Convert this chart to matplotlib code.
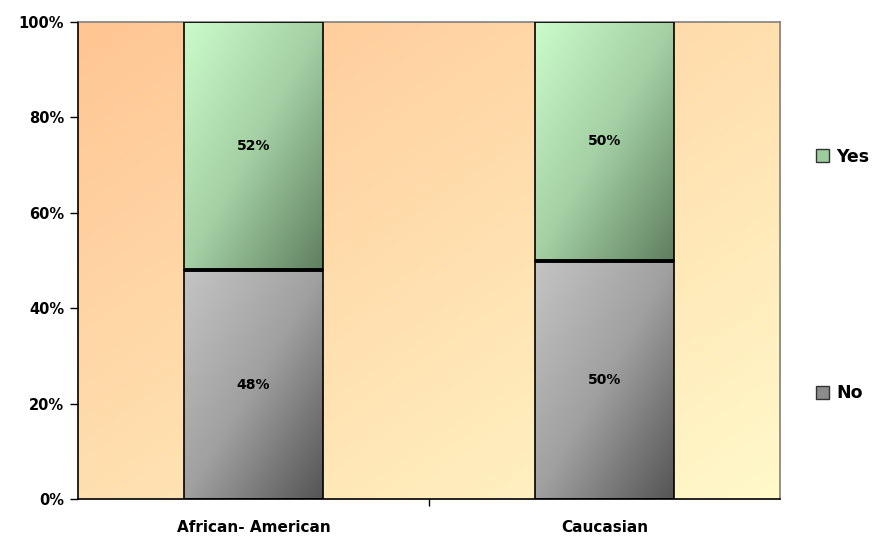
import numpy as np
import matplotlib
matplotlib.use("Agg")
import matplotlib.pyplot as plt
from matplotlib.patches import Patch
from matplotlib.colors import LinearSegmentedColormap

categories = ["African- American", "Caucasian"]
no_vals = [48, 50]
yes_vals = [52, 50]
series_names = ["Yes", "No"]
yticks = [0, 20, 40, 60, 80, 100]
ytick_labels = ["0%", "20%", "40%", "60%", "80%", "100%"]

fig = plt.figure(figsize=(8.81, 5.38), dpi=100)
ax = fig.add_axes([78/881, 1-499/538, (780-78)/881, (499-22)/538])

x = np.arange(len(categories))
width = 0.396
ax.set_xlim(-0.5, 1.5)
ax.set_ylim(0, 100)

# background gradient
bg_cmap = LinearSegmentedColormap.from_list("bg", ["#FFC593", "#FFF9CA"])
gy, gx = np.mgrid[0:1:200j, 0:1:200j]
grad = (gx + gy) / 2  # row 0 at top when origin='upper'
ax.imshow(grad, cmap=bg_cmap, extent=[-0.5, 1.5, 0, 100], origin="upper",
          aspect="auto", zorder=0)

green_cmap = LinearSegmentedColormap.from_list("g", ["#CBFBCB", "#A4D0A4", "#5F7F5F"])
gray_cmap = LinearSegmentedColormap.from_list("k", ["#C4C4C4", "#A0A0A0", "#555555"])

def grad_bar(xc, bottom, h, cmap):
    bars = ax.bar(xc, h, width, bottom=bottom, color="none", edgecolor="black",
                  linewidth=1.2, zorder=3)
    for b in bars:
        x0 = b.get_x()
        im = ax.imshow(grad, cmap=cmap, extent=[x0, x0 + width, b.get_y(), b.get_y() + b.get_height()],
                       origin="upper", aspect="auto", zorder=2)
        im.set_clip_path(b)
    return bars

grad_bar(x, 0, no_vals, gray_cmap)
grad_bar(x, no_vals, yes_vals, green_cmap)
# thick divider
for xi, n in zip(x, no_vals):
    ax.plot([xi - width/2, xi + width/2], [n, n], color="black", lw=2.8, zorder=4,
            solid_capstyle="butt")

for xi, n, yv in zip(x, no_vals, yes_vals):
    ax.text(xi, n/2, f"{n}%", ha="center", va="center", fontsize=10,
            fontweight="bold", zorder=5)
    ax.text(xi, n + yv/2, f"{yv}%", ha="center", va="center", fontsize=10,
            fontweight="bold", zorder=5)

ax.set_yticks(yticks)
ax.set_yticklabels(ytick_labels, fontsize=10.5, fontweight="bold")
ax.set_xticks(x)
ax.set_xticklabels(categories, fontsize=11, fontweight="bold")
ax.tick_params(axis="x", length=0, pad=15)
ax.set_xticks([0.5], minor=True)
ax.tick_params(axis="x", which="minor", length=5, width=1)
ax.tick_params(axis="y", length=6, width=1, direction="out", pad=4)
for s in ["top", "right"]:
    ax.spines[s].set_color("#808080")
    ax.spines[s].set_linewidth(1.2)
for s in ["left", "bottom"]:
    ax.spines[s].set_color("black")
    ax.spines[s].set_linewidth(1.2)
ax.set_axisbelow(False)

handles = [Patch(facecolor="#9CCC9C", edgecolor="#333333", label="Yes"),
           Patch(facecolor="#8C8C8C", edgecolor="#333333", label="No")]
fig.legend(handles=handles, loc="upper left", bbox_to_anchor=(800/881, 1-132/538),
           frameon=False, handlelength=0.75, handleheight=0.75,
           handletextpad=0.45, labelspacing=12.6, prop={"weight": "bold", "size": 12.5})

fig.savefig("out.png", dpi=100)
